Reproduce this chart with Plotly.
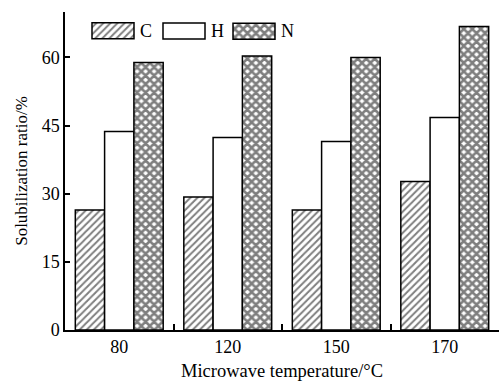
import plotly.graph_objects as go

# Microwave temperature categories and solubilization ratios (%)
temperatures = ["80", "120", "150", "170"]
c_ratio = [26.4, 29.3, 26.4, 32.7]
h_ratio = [43.7, 42.4, 41.5, 46.8]
n_ratio = [58.9, 60.3, 60.0, 66.8]

series_names = ["C", "H", "N"]
serif = "Liberation Serif"

patterns = {
    "C": dict(shape="/", size=5, solidity=0.4, fgcolor="black", bgcolor="white"),
    "H": dict(shape="", fgcolor="black", bgcolor="white"),
    "N": dict(shape="x", size=6, solidity=0.68, fgcolor="black", bgcolor="white"),
}

fig = go.Figure()
for name, vals in zip(series_names, [c_ratio, h_ratio, n_ratio]):
    fig.add_trace(go.Bar(
        x=temperatures, y=vals, name=name,
        marker=dict(color="white", pattern=patterns[name],
                    line=dict(color="black", width=1.5)),
        showlegend=False,
    ))

# Legend swatches drawn on an overlay axis measured in pixels
sw_left = [92, 163, 233]
sw_width = 42
sw_y = 31
sw_h = 16
for name, x0 in zip(series_names, sw_left):
    fig.add_trace(go.Bar(
        x=[sw_width], y=[sw_y], base=[x0], orientation="h", width=[sw_h],
        marker=dict(color="white", pattern=patterns[name],
                    line=dict(color="black", width=1.5)),
        xaxis="x2", yaxis="y2", showlegend=False, hoverinfo="skip",
    ))
    fig.add_annotation(x=x0 + sw_width + 4, y=sw_y, xref="x2", yref="y2",
                       text=name, showarrow=False, xanchor="left",
                       font=dict(family=serif, size=18, color="black"))

fig.update_layout(
    width=500, height=383,
    margin=dict(l=65, r=1, t=12, b=53),
    paper_bgcolor="white", plot_bgcolor="white",
    barmode="group", bargap=0.19, bargroupgap=0,
    font=dict(family=serif, size=18, color="black"),
    xaxis=dict(
        type="category", range=[-0.5, 3.5], tickson="boundaries",
        ticks="inside", ticklen=6, tickwidth=1.5, tickcolor="black",
        showline=True, linecolor="black", linewidth=1.5,
        showgrid=False, zeroline=False,
        tickfont=dict(family=serif, size=18),
        title=dict(text="Microwave temperature/°C",
                   font=dict(family=serif, size=18.5), standoff=8),
    ),
    yaxis=dict(
        range=[0, 70], tickvals=[0, 15, 30, 45, 60, 70],
        ticktext=["0", "15", "30", "45", "60", ""],
        ticks="inside", ticklen=5, tickwidth=1.5, tickcolor="black",
        showline=True, linecolor="black", linewidth=1.5,
        showgrid=False, zeroline=False,
        tickfont=dict(family=serif, size=18),
        title=dict(text="Solubilization ratio/%",
                   font=dict(family=serif, size=17), standoff=10),
    ),
    xaxis2=dict(range=[65, 499], domain=[0, 1], overlaying="x",
                visible=False, fixedrange=True),
    yaxis2=dict(range=[330, 12], domain=[0, 1], overlaying="y",
                visible=False, fixedrange=True, anchor="x2"),
)

fig.write_html("out.html")
